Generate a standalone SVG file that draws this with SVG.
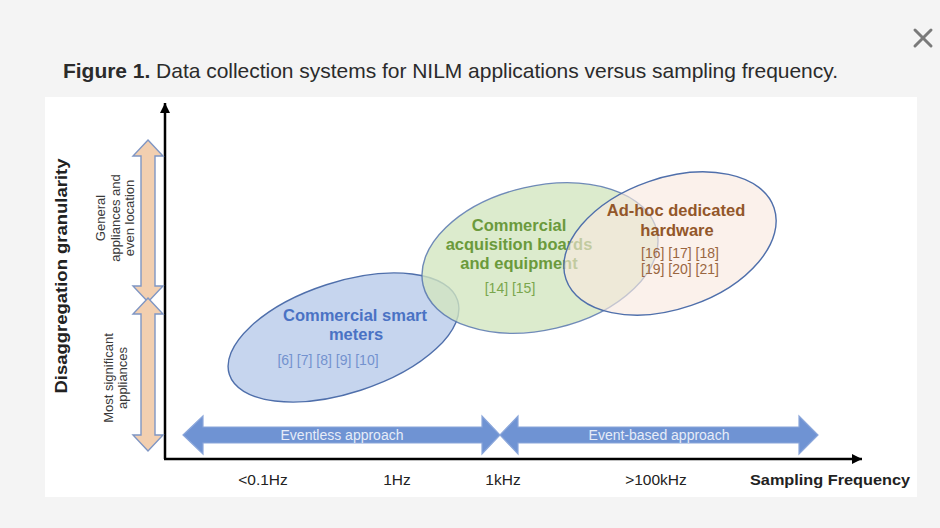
<svg xmlns="http://www.w3.org/2000/svg" width="940" height="528" viewBox="0 0 940 528">
  <defs>
    <marker id="axisHead" viewBox="0 0 10 10" refX="10" refY="5" markerWidth="10" markerHeight="10" markerUnits="userSpaceOnUse" orient="auto">
      <path d="M0,0 L10,5 L0,10 Z" fill="#000"/>
    </marker>
    <style>
      text { font-family: "Liberation Sans", Arial, sans-serif; }
      .title { font-size: 21px; fill: #2b2b2b; }
      .axis { stroke: #000; stroke-width: 2.5; fill: none; }
      .tan { fill: #f2cfb0; stroke: #7f96c4; stroke-width: 1.4; }
      .band { fill: #6f93d3; stroke: #8aa6da; stroke-width: 1.2; }
      .band-label { font-size: 14px; fill: #e6ecf8; text-anchor: middle; }
      .side { font-size: 13px; fill: #3a3a3a; text-anchor: middle; }
      .tick { font-size: 15.5px; fill: #222; text-anchor: middle; }
      .head { font-size: 16.5px; font-weight: bold; text-anchor: middle; }
      .refs { font-size: 14px; text-anchor: middle; }
      .ell { stroke: #4f6fab; stroke-width: 1.4; }
    </style>
  </defs>

  <!-- page and figure panel -->
  <rect x="0" y="0" width="940" height="528" fill="#f4f4f4"/>
  <rect x="45" y="97" width="872" height="400" fill="#ffffff"/>

  <!-- close button -->
  <g id="close" stroke="#7a7a7a" stroke-width="3" stroke-linecap="round">
    <line x1="915" y1="30" x2="931" y2="46"/>
    <line x1="931" y1="30" x2="915" y2="46"/>
  </g>

  <text id="caption" class="title" x="63" y="78" textLength="775" lengthAdjust="spacing"><tspan font-weight="bold">Figure 1.</tspan> Data collection systems for NILM applications versus sampling frequency.</text>

  <!-- axes -->
  <g id="axes">
    <line class="axis" x1="165" y1="459" x2="165" y2="103" marker-end="url(#axisHead)"/>
    <line class="axis" x1="164" y1="459" x2="862" y2="459" marker-end="url(#axisHead)"/>
  </g>

  <!-- vertical granularity bands -->
  <g id="granularity-high">
    <polygon class="tan" points="148,140 163,156 155,156 155,286 163,286 148,302 133,286 141,286 141,156 133,156"/>
    <text class="side" transform="translate(105,218) rotate(-90)">General</text>
    <text class="side" transform="translate(120,218) rotate(-90)">appliances  and</text>
    <text class="side" transform="translate(134,218) rotate(-90)">even location</text>
  </g>
  <g id="granularity-low">
    <polygon class="tan" points="148,298 163,314 155,314 155,435 163,435 148,451 133,435 141,435 141,314 133,314"/>
    <text class="side" transform="translate(113,378) rotate(-90)">Most significant</text>
    <text class="side" transform="translate(127,378) rotate(-90)">appliances</text>
  </g>
  <text id="y-label" transform="translate(67,276) rotate(-90)" font-size="17" font-weight="bold" fill="#222" text-anchor="middle" textLength="235" lengthAdjust="spacingAndGlyphs">Disaggregation granularity</text>

  <!-- approach bands -->
  <g id="eventless">
    <polygon class="band" points="183,435 203,416 203,427 482,427 482,416 500,435 482,454 482,443 203,443 203,454"/>
    <text class="band-label" x="342" y="440">Eventless  approach</text>
  </g>
  <g id="event-based">
    <polygon class="band" points="500,435 518,416 518,427 799,427 799,416 818,435 799,454 799,443 518,443 518,454"/>
    <text class="band-label" x="659" y="440">Event-based  approach</text>
  </g>

  <!-- system families -->
  <g id="smart-meters">
    <ellipse class="ell" cx="0" cy="0" rx="120" ry="55.5" transform="translate(343.5,337.5) rotate(-18)" fill="#c6d5ee"/>
    <text class="head" x="355" y="321" fill="#4a72c4">Commercial smart</text>
    <text class="head" x="356" y="340" fill="#4a72c4">meters</text>
    <text class="refs" x="328" y="365" fill="#7392cf">[6] [7] [8] [9] [10]</text>
  </g>
  <g id="acquisition-boards">
    <ellipse class="ell" cx="0" cy="0" rx="120" ry="72" transform="translate(540,258) rotate(-13)" fill="#d2e6bf" fill-opacity="0.78" stroke-opacity="0.8"/>
    <text class="head" x="519" y="231" fill="#6b9a3c">Commercial</text>
    <text class="head" x="519" y="250" fill="#6b9a3c">acquisition boards</text>
    <text class="head" x="519" y="269" fill="#6b9a3c">and equipment</text>
    <text class="refs" x="510" y="293" fill="#7aa64c">[14] [15]</text>
  </g>
  <g id="dedicated-hardware">
    <ellipse class="ell" cx="0" cy="0" rx="110" ry="65.5" transform="translate(670,243.5) rotate(-19)" fill="#f9e9de" fill-opacity="0.62"/>
    <text class="head" x="676" y="216" fill="#93572a">Ad-hoc dedicated</text>
    <text class="head" x="677" y="236" fill="#93572a">hardware</text>
    <text class="refs" x="680" y="258" fill="#9a6641">[16] [17] [18]</text>
    <text class="refs" x="680" y="274" fill="#9a6641">[19] [20] [21]</text>
  </g>

  <!-- frequency scale -->
  <g id="frequency-labels">
    <text class="tick" x="263" y="485">&lt;0.1Hz</text>
    <text class="tick" x="397" y="485">1Hz</text>
    <text class="tick" x="503" y="485">1kHz</text>
    <text class="tick" x="656" y="485">&gt;100kHz</text>
    <text x="830" y="485" font-size="15.5" font-weight="bold" fill="#222" text-anchor="middle" textLength="160" lengthAdjust="spacingAndGlyphs">Sampling Frequency</text>
  </g>
</svg>
